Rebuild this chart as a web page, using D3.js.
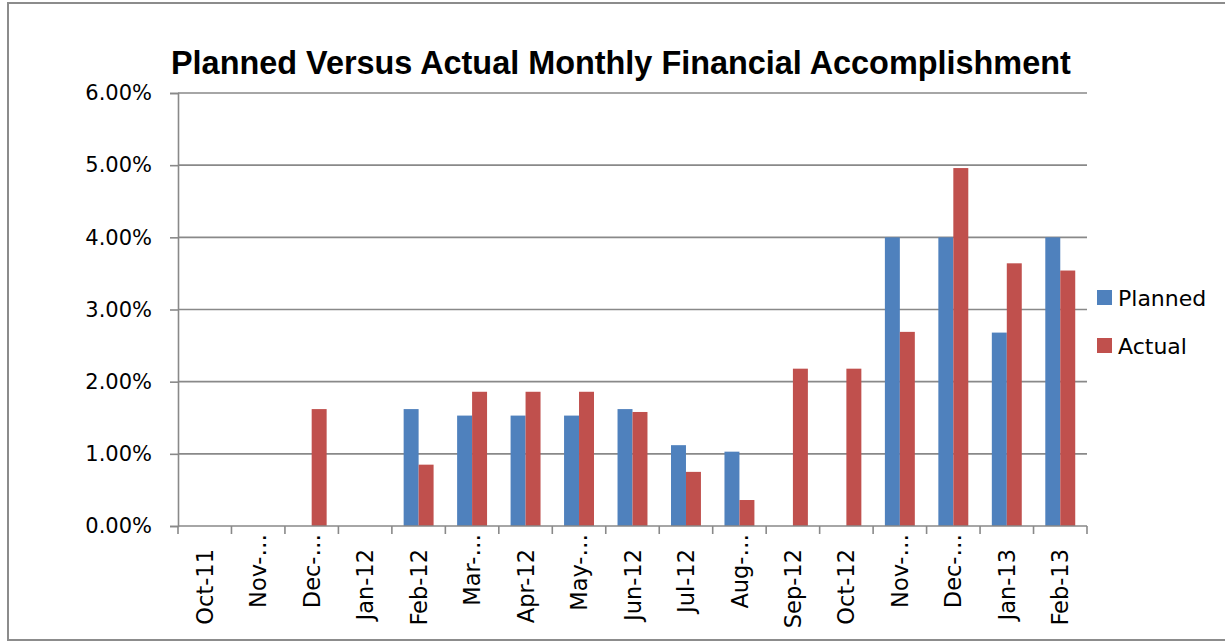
<!DOCTYPE html>
<html>
<head>
<meta charset="utf-8">
<script src="https://cdn.jsdelivr.net/npm/d3@7"></script>
<style>
  body { margin: 0; background: #fff; }
</style>
</head>
<body>
<div id="wrapper"></div>
<script>
// DATA
const months = ["Oct-11", "Nov-11", "Dec-11", "Jan-12", "Feb-12", "Mar-12", "Apr-12", "May-12", "Jun-12",
  "Jul-12", "Aug-12", "Sep-12", "Oct-12", "Nov-12", "Dec-12", "Jan-13", "Feb-13"]
const tickLabels = ["Oct-11", "Nov-…", "Dec-…", "Jan-12", "Feb-12", "Mar-…", "Apr-12", "May-…", "Jun-12",
  "Jul-12", "Aug-…", "Sep-12", "Oct-12", "Nov-…", "Dec-…", "Jan-13", "Feb-13"]
const planned = [0, 0, 0, 0, 1.62, 1.53, 1.53, 1.53, 1.62, 1.12, 1.03, 0, 0, 4.00, 4.00, 2.68, 4.00]
const actual = [0, 0, 1.62, 0, 0.85, 1.86, 1.86, 1.86, 1.58, 0.75, 0.36, 2.18, 2.18, 2.69, 4.96, 3.64, 3.54]
const seriesNames = ["Planned", "Actual"]
const seriesColors = ["#4F81BD", "#C0504D"]
const yTicks = [0, 1, 2, 3, 4, 5, 6]

const rows = months.map((m, i) => ({ month: m, label: tickLabels[i], values: [planned[i], actual[i]] }))

// DIMENSIONS
const dimensions = {
  width: 1225,
  height: 642,
  margin: { top: 93, right: 138, bottom: 116, left: 178 }
}
dimensions.boundedWidth = dimensions.width - dimensions.margin.left - dimensions.margin.right
dimensions.boundedHeight = dimensions.height - dimensions.margin.top - dimensions.margin.bottom

const font = "'DejaVu Sans', sans-serif"
const gridColor = "#898989"

// CANVAS
const wrapper = d3.select("#wrapper")
  .append("svg")
  .attr("width", dimensions.width)
  .attr("height", dimensions.height)

// chart border (right side runs off the picture)
wrapper.append("rect")
  .attr("x", 8)
  .attr("y", 3)
  .attr("width", 1240)
  .attr("height", 637)
  .attr("fill", "none")
  .attr("stroke", "#8c8c8c")
  .attr("stroke-width", 2)

const bounds = wrapper.append("g")
  .attr("transform", `translate(${dimensions.margin.left},${dimensions.margin.top})`)

// SCALES
const xScale = d3.scaleBand()
  .domain(months)
  .range([0, dimensions.boundedWidth])
  .paddingInner(0)
  .paddingOuter(0)

const step = xScale.bandwidth()
const xSeries = d3.scaleBand()
  .domain(seriesNames)
  .range([step * 0.22, step * 0.78])

const yScale = d3.scaleLinear()
  .domain([0, 6])
  .range([dimensions.boundedHeight, 0])

// GRIDLINES
bounds.append("g")
  .selectAll("line")
  .data(yTicks.slice(1))
  .join("line")
  .attr("x1", 0)
  .attr("x2", dimensions.boundedWidth)
  .attr("y1", d => yScale(d))
  .attr("y2", d => yScale(d))
  .attr("stroke", gridColor)
  .attr("stroke-width", 1.6)

// BARS
const groups = bounds.append("g")
  .selectAll("g")
  .data(rows)
  .join("g")
  .attr("transform", d => `translate(${xScale(d.month)},0)`)

groups.selectAll("rect")
  .data(d => d.values.map((v, i) => ({ name: seriesNames[i], value: v, color: seriesColors[i] })))
  .join("rect")
  .filter(d => d.value > 0)
  .attr("x", d => xSeries(d.name))
  .attr("y", d => yScale(d.value))
  .attr("width", xSeries.bandwidth())
  .attr("height", d => yScale(0) - yScale(d.value))
  .attr("fill", d => d.color)

// Y AXIS
const yAxis = bounds.append("g")
  .call(d3.axisLeft(yScale).tickValues(yTicks).tickSize(8).tickPadding(18)
    .tickFormat(d => d.toFixed(2) + "%"))
yAxis.select(".domain").attr("stroke", gridColor).attr("stroke-width", 1.6)
yAxis.selectAll(".tick line").attr("stroke", gridColor).attr("stroke-width", 1.6)
yAxis.selectAll(".tick text")
  .attr("fill", "#000")
  .style("font-family", font)
  .style("font-size", "21px")

// X AXIS
const xAxisGroup = bounds.append("g")
  .attr("transform", `translate(0,${dimensions.boundedHeight})`)

xAxisGroup.append("line")
  .attr("x1", 0)
  .attr("x2", dimensions.boundedWidth)
  .attr("stroke", gridColor)
  .attr("stroke-width", 1.6)

xAxisGroup.selectAll("line.tick")
  .data(months.concat(["end"]))
  .join("line")
  .attr("class", "tick")
  .attr("x1", (d, i) => i * step)
  .attr("x2", (d, i) => i * step)
  .attr("y1", 0)
  .attr("y2", 8)
  .attr("stroke", gridColor)
  .attr("stroke-width", 1.6)

xAxisGroup.selectAll("text")
  .data(rows)
  .join("text")
  .attr("transform", d => {
    const cx = xScale(d.month) + step / 2
    const top = d.label.endsWith("…") ? 8 : 23
    return `translate(${cx},${top}) rotate(-90)`
  })
  .attr("dy", "0.36em")
  .attr("text-anchor", "end")
  .style("font-family", font)
  .style("font-size", "22.5px")
  .attr("fill", "#000")
  .text(d => d.label)

// TITLE
const title = wrapper.append("text")
  .attr("x", 171)
  .attr("y", 74)
  .style("font-family", "'Liberation Sans', Arial, sans-serif")
  .style("font-weight", "bold")
  .style("font-size", "30px")
  .attr("fill", "#000")
  .text("Planned Versus Actual Monthly Financial Accomplishment")
const titleW = title.node().getComputedTextLength()
title.style("font-size", (30 * 900 / titleW) + "px")

// LEGEND
const legend = wrapper.append("g")
  .selectAll("g")
  .data(seriesNames)
  .join("g")
  .attr("transform", (d, i) => `translate(1097,${290 + i * 48})`)

legend.append("rect")
  .attr("width", 15)
  .attr("height", 15)
  .attr("fill", (d, i) => seriesColors[i])

legend.append("text")
  .attr("x", 21)
  .attr("y", 15.5)
  .style("font-family", font)
  .style("font-size", "22px")
  .attr("fill", "#000")
  .text(d => d)
</script>
</body>
</html>
